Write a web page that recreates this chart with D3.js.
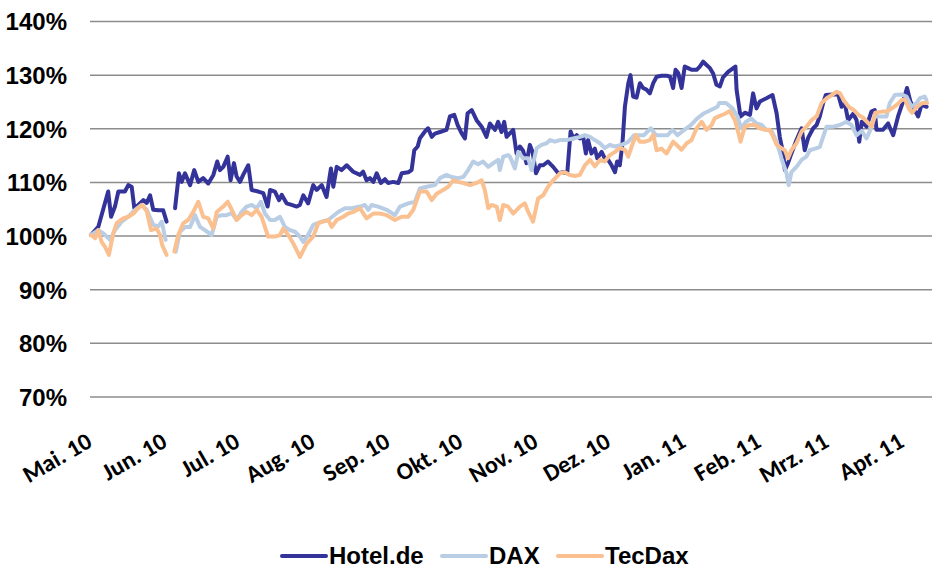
<!DOCTYPE html>
<html><head><meta charset="utf-8">
<script src="https://cdn.jsdelivr.net/npm/d3@7"></script>
<style>body{margin:0;background:#fff} svg{display:block}</style>
</head><body>
<svg id="chart" width="935" height="570"></svg>
<script>
// ---------- data ----------
const startDate = "2010-05-01";
const endDate = "2011-04-13";
const yTicks = [70, 80, 90, 100, 110, 120, 130, 140];
const monthTicks = ["2010-05-01","2010-06-01","2010-07-01","2010-08-01","2010-09-01","2010-10-01",
  "2010-11-01","2010-12-01","2011-01-01","2011-02-01","2011-03-01","2011-04-01"];
const monthLabels = ["Mai. 10","Jun. 10","Jul. 10","Aug. 10","Sep. 10","Okt. 10",
  "Nov. 10","Dez. 10","Jan. 11","Feb. 11","Mrz. 11","Apr. 11"];
const seriesNames = ["Hotel.de", "DAX", "TecDax"];
const seriesColors = ["#333399", "#b9cde5", "#fac090"];

// days since startDate, index values in % (null = no data)
const hotelDays = [0.4,3.4,5.4,7.5,8.7,10.3,11.7,14.4,15.8,17.2,18.3,19.9,22.0,23.4,24.8,26.1,28.2,30.2,31.6,33.3,
  35.1,36.7,37.8,39.2,41.3,43.0,44.7,46.7,48.8,50.9,52.5,53.6,55.0,56.8,58.0,59.4,60.5,61.9,63.2,65.3,66.7,69.4,71.5,73.3,74.3,76.3,78.0,79.1,81.1,83.2,85.3,
  86.6,88.0,90.0,92.1,93.5,95.6,97.6,99.4,100.4,101.8,103.8,105.9,108.6,111.4,112.7,114.1,115.5,116.9,118.3,120.0,121.7,123.0,125.1,127.2,128.6,131.3,132.7,
  133.8,135.2,136.1,138.2,139.5,141.0,142.3,144.4,147.1,148.5,150.3,151.7,153.3,154.7,155.8,157.5,159.5,161.6,163.6,165.0,167.1,168.4,169.8,170.9,171.9,
  173.3,174.6,176.0,177.4,178.7,180.1,181.5,182.6,184.0,185.6,187.0,189.0,191.1,193.2,195.2,196.9,198.3,199.4,200.8,202.1,203.5,204.6,205.5,206.9,208.3,
  209.3,211.1,212.4,213.8,215.2,216.6,217.5,218.6,219.7,220.7,222.1,223.0,224.1,225.5,226.9,228.2,229.6,231.0,232.4,233.8,235.8,237.9,239.3,240.6,241.6,
  242.7,244.1,245.4,246.8,248.2,250.3,251.6,253.0,254.4,255.8,257.1,258.5,259.9,261.2,263.3,265.4,266.3,266.8,268.4,270.2,272.3,273.6,275.0,276.4,279.1,
  281.6,283.3,284.6,286.0,286.7,288.0,289.4,291.5,293.6,294.9,296.3,298.4,299.8,301.1,302.5,303.6,306.6,308.7,310.1,311.4,312.8,314.9,316.3,317.4,318.4,
  320.4,322.4,323.8,324.5,327.2,329.3,331.4,333.4,335.5,337.1,338.5,340.3,341.7,343.1,345.2];
const hotelValues = [100.2,101.7,104.9,108.3,103.6,105.5,108.3,108.3,109.5,109.2,105.2,105.8,106.7,106.2,107.6,104.9,104.8,104.8,102.7,null,
  105.2,111.7,110.1,111.7,109.5,112.3,110.1,110.8,109.8,111.4,113.9,112.3,112.9,114.8,110.4,113.6,111.1,110.1,111.4,113.2,108.6,108.3,108.0,105.5,108.6,108.3,106.7,107.7,106.1,105.8,105.5,
  105.8,107.6,106.1,109.5,108.6,109.5,107.3,112.6,109.2,112.9,112.3,113.2,112.0,111.4,112.0,110.4,110.8,110.1,111.7,109.9,110.6,109.9,110.1,109.9,111.7,111.9,112.3,
  116.0,116.7,118.2,119.5,120.1,118.5,119.1,119.4,119.8,122.3,122.6,120.7,119.2,118.2,122.9,123.5,121.6,120.4,118.5,121.0,119.8,121.3,119.4,121.3,118.5,
  119.2,119.8,115.4,116.7,115.9,113.6,117.0,115.7,111.7,113.2,113.2,113.9,112.9,111.7,111.9,111.7,119.5,118.2,118.8,118.2,118.5,115.4,117.9,115.4,116.3,
  114.5,115.7,114.5,114.2,113.2,111.9,113.9,113.2,117.3,124.1,128.5,130.0,126.0,125.8,128.5,127.6,127.3,126.6,128.5,129.7,129.9,129.9,129.7,127.6,131.0,
  130.4,127.6,131.6,131.3,131.0,131.0,131.6,132.5,131.9,131.3,130.3,128.2,127.9,129.6,130.6,131.3,131.6,127.2,122.3,123.0,122.6,126.6,123.8,125.1,125.7,
  126.3,122.9,118.5,115.4,112.3,113.6,115.4,117.9,120.1,116.0,118.3,120.1,120.7,122.3,124.8,126.3,126.4,126.4,124.1,124.8,121.6,122.8,121.6,117.6,121.3,
  120.4,123.2,123.5,119.8,119.8,121.0,118.8,122.3,125.1,127.6,125.1,123.5,122.3,124.5,124.1];

const daxDays = [0.4,3.4,5.5,8.3,10.3,13.1,15.8,18.6,21.3,23.4,26.1,28.2,29.6,31.2,33.3,
  35.4,37.1,39.2,41.3,43.3,45.4,47.4,50.2,52.3,54.3,56.4,58.5,60.5,62.6,64.6,66.7,68.8,70.5,72.2,74.3,76.3,78.4,80.4,82.5,84.6,86.6,88.0,90.0,92.1,95.6,98.3,
  102.4,105.2,107.9,111.4,113.4,114.8,116.2,118.9,122.4,125.8,127.9,131.3,134.1,136.1,138.9,142.3,144.4,147.1,149.2,151.9,154.0,156.0,158.1,160.1,162.2,
  164.3,166.4,168.4,169.1,170.5,172.5,173.3,175.3,176.7,178.7,180.8,182.2,184.3,186.3,188.4,189.8,191.8,193.9,196.6,199.4,202.1,204.2,206.3,208.3,210.4,
  212.4,214.5,216.6,219.3,221.9,224.5,228.6,231.4,233.5,238.3,240.3,242.4,245.2,247.9,250.7,253.4,256.2,258.9,259.6,262.4,265.1,267.2,268.6,270.7,272.8,
  275.0,277.1,279.1,281.2,283.3,285.3,287.4,288.3,289.4,291.5,293.6,295.6,297.0,299.1,301.1,302.5,303.9,306.6,309.4,312.1,314.2,316.3,318.4,320.4,321.8,
  323.8,325.9,328.6,330.0,332.1,334.8,336.9,339.0,341.0,342.4,344.4,345.1];
const daxValues = [100.2,101.1,100.5,99.3,101.1,102.7,103.6,104.9,105.8,104.9,102.1,101.8,102.7,99.3,null,
  97.1,100.8,101.7,101.7,103.9,101.7,101.1,100.2,103.6,103.9,103.9,104.3,103.0,104.5,105.5,105.8,105.2,106.4,104.2,103.0,103.0,103.6,101.7,101.1,100.8,99.9,98.9,100.2,102.1,102.7,103.0,
  104.5,105.2,105.2,105.5,105.8,104.9,105.8,105.5,104.9,103.9,105.5,106.1,106.4,108.9,109.2,109.5,110.8,111.4,111.0,110.8,111.0,112.3,113.9,113.4,113.9,
  112.9,113.6,114.2,112.3,114.8,115.1,114.8,112.6,115.7,114.5,114.5,112.3,116.4,117.0,117.3,117.9,117.6,117.9,117.9,118.2,118.5,118.8,118.5,117.9,117.3,
  116.4,117.0,116.7,117.0,117.5,118.8,118.8,120.1,118.8,118.8,119.8,118.8,119.8,120.7,122.0,122.9,123.5,124.1,124.8,124.8,123.8,122.3,120.1,121.3,121.9,
  121.0,120.7,119.8,119.6,117.6,114.5,111.7,109.5,111.9,112.9,114.2,114.8,116.0,116.3,116.6,118.5,120.4,120.4,120.7,121.3,120.7,118.8,119.6,118.2,119.6,
  122.3,122.3,122.3,124.8,126.3,126.4,126.0,124.1,124.8,125.7,126.0,125.4];

const tecDays = [0.4,2.1,3.4,4.8,6.2,7.8,9.6,11.0,13.7,15.8,17.9,19.9,21.6,23.4,25.2,27.5,28.9,29.8,31.6,33.3,
  34.8,36.4,38.5,40.5,42.6,44.7,46.7,48.8,50.9,52.3,55.0,56.8,58.5,60.5,62.6,64.6,66.7,68.8,70.8,73.5,76.3,78.4,79.7,81.8,83.9,85.9,86.6,89.4,92.1,94.2,
  96.2,98.3,99.7,101.8,104.5,106.5,108.6,111.4,114.1,116.9,119.6,122.4,125.8,128.6,131.3,133.4,136.1,138.9,141.0,143.0,145.7,147.8,149.9,151.9,154.0,
  156.8,159.5,161.6,162.9,164.3,165.7,167.8,169.1,170.5,172.5,174.6,177.4,179.4,180.8,182.8,184.9,187.0,189.0,191.1,193.9,195.9,198.0,200.1,202.1,204.2,
  206.3,208.3,210.4,212.4,214.5,216.6,218.6,220.7,222.1,223.5,225.2,226.9,229.0,231.0,232.4,233.8,235.8,237.9,240.6,242.7,244.1,246.2,248.2,250.3,252.4,
  254.4,256.5,257.8,259.9,262.0,264.0,266.1,267.4,268.4,270.2,272.3,274.3,276.4,278.4,280.5,281.9,283.3,285.3,286.7,288.0,289.4,291.5,293.6,295.6,297.7,
  299.8,301.9,304.0,306.1,308.1,309.5,310.9,313.0,315.1,317.1,319.2,321.2,322.6,324.0,326.8,328.8,330.9,333.0,335.0,336.4,337.8,339.2,341.2,343.3,345.4];
const tecValues = [100.2,99.6,101.1,98.9,98.0,96.5,100.5,102.4,103.3,103.6,104.2,105.2,105.8,104.6,101.1,101.4,100.2,98.3,96.5,null,
  97.1,100.2,102.4,103.0,104.5,106.4,103.6,103.3,101.4,104.5,105.5,106.4,104.9,103.0,103.9,104.5,103.9,104.9,103.6,99.9,99.9,100.2,101.4,100.2,98.6,96.8,96.1,98.6,99.9,102.4,
  102.7,103.0,101.7,103.0,103.6,104.2,104.5,105.2,103.3,104.2,104.2,103.9,103.0,103.6,103.6,104.9,108.3,108.3,106.7,107.9,108.6,109.2,110.4,110.1,109.9,
  109.5,109.9,110.4,108.6,105.2,105.8,105.5,103.0,105.8,105.5,104.2,105.5,106.1,104.5,102.7,107.0,107.6,109.2,110.4,111.7,111.9,111.4,111.2,111.4,113.2,
  114.2,113.0,114.2,113.9,115.1,115.7,116.4,116.1,114.8,116.7,118.8,117.6,117.6,117.9,118.9,116.0,116.3,115.4,117.6,116.7,116.1,117.3,117.9,120.1,121.3,
  119.8,120.7,122.0,122.4,122.8,123.3,121.6,119.5,117.6,120.4,120.7,120.7,120.1,119.8,119.8,118.5,117.0,116.4,116.0,114.5,116.0,117.3,119.5,120.4,121.6,
  122.3,124.8,125.7,126.3,126.9,126.6,125.4,124.1,123.5,122.6,122.0,121.0,120.4,123.0,123.2,123.2,123.8,124.5,125.4,125.4,123.8,123.0,124.1,124.8,124.8];

// ---------- chart ----------
const svg = d3.select("#chart");
const parse = d3.timeParse("%Y-%m-%d");
const t0 = parse(startDate);
const toDate = d => new Date(t0.getTime() + d * 86400000);

const x = d3.scaleTime().domain([t0, parse(endDate)]).range([90, 931]);
const y = d3.scaleLinear().domain([70, 140]).range([397, 21.5]);

// gridlines
svg.append("g").selectAll("line").data(yTicks).join("line")
  .attr("x1", 90).attr("x2", 932)
  .attr("y1", d => y(d)).attr("y2", d => y(d))
  .attr("stroke", "#8c8c8c").attr("stroke-width", 1.5);

// y axis labels
const yAxis = d3.axisLeft(y).tickValues(yTicks).tickFormat(d => d + "%").tickSize(0).tickPadding(0);
const gy = svg.append("g").attr("transform", "translate(67,0)").call(yAxis);
gy.select(".domain").remove();
gy.selectAll("text").attr("font-family", "'Liberation Sans Narrow','Arial Narrow',sans-serif")
  .attr("font-weight", "bold").attr("font-size", 24).attr("fill", "#000").attr("dy", "0.35em");

// x axis labels
const xAxis = d3.axisBottom(x).tickValues(monthTicks.map(parse))
  .tickFormat((d, i) => monthLabels[i]).tickSize(0).tickPadding(0);
const gx = svg.append("g").call(xAxis);
gx.select(".domain").remove();
gx.selectAll(".tick").each(function() {
  const tr = d3.select(this).attr("transform");
  const tx = +tr.match(/translate\(([-\d.]+)/)[1];
  d3.select(this).attr("transform", `translate(${tx + 3},446)`);
});
gx.selectAll("text").attr("y", 0).attr("dy", 0)
  .attr("text-anchor", "end").attr("transform", "rotate(-30)")
  .attr("font-family", "Carlito, Lato, sans-serif").attr("font-weight", "bold")
  .attr("font-size", 24).attr("fill", "#000");

// lines
const series = [
  {name: seriesNames[0], color: seriesColors[0], days: hotelDays, values: hotelValues},
  {name: seriesNames[1], color: seriesColors[1], days: daxDays, values: daxValues},
  {name: seriesNames[2], color: seriesColors[2], days: tecDays, values: tecValues}
];
const line = d3.line()
  .defined(d => d.v != null)
  .x(d => x(d.date)).y(d => y(d.v));
series.forEach(s => {
  const pts = s.days.map((d, i) => ({date: toDate(d), v: s.values[i]}));
  svg.append("path").datum(pts)
    .attr("fill", "none").attr("stroke", s.color)
    .attr("stroke-width", 4).attr("stroke-linejoin", "round").attr("stroke-linecap", "round")
    .attr("d", line);
});

// legend
const legendX = [282, 442, 558];
const lg = svg.append("g");
series.forEach((s, i) => {
  lg.append("line").attr("x1", legendX[i]).attr("x2", legendX[i] + 44)
    .attr("y1", 556).attr("y2", 556)
    .attr("stroke", s.color).attr("stroke-width", 4).attr("stroke-linecap", "round");
  lg.append("text").attr("x", legendX[i] + 47).attr("y", 564)
    .attr("font-family", "'Liberation Sans Narrow','Arial Narrow',sans-serif")
    .attr("font-weight", "bold").attr("font-size", 24).attr("fill", "#000")
    .text(s.name);
});
</script>
</body></html>
